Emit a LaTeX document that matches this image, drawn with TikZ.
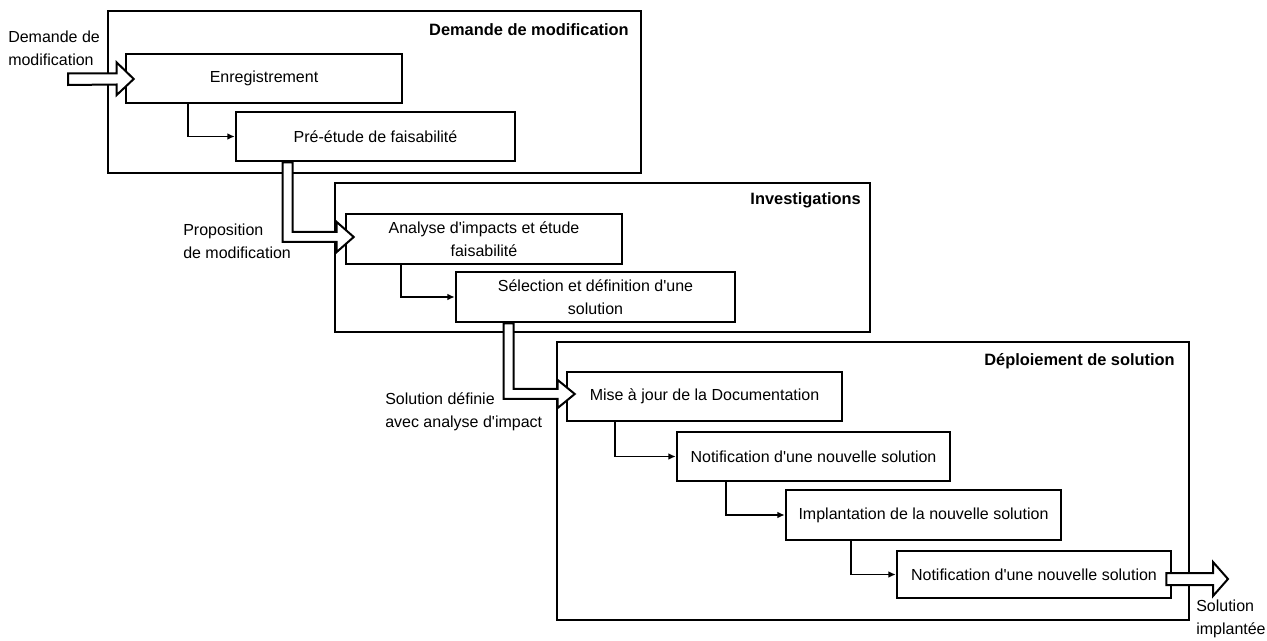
\documentclass[tikz,border=0pt]{standalone}
\usepackage{fontspec}
\setmainfont{Liberation Sans}
\usetikzlibrary{arrows.meta,calc}
\newcommand{\apo}{\textquotesingle}
\begin{document}
\begin{tikzpicture}[x=0.75pt,y=-0.75pt,
  txt/.style={font=\fontsize{12}{17.5}\selectfont},
  group/.style={draw,line width=1.9pt,fill=white},
  grouptitle/.style={txt,font=\fontsize{12.3}{17}\selectfont\bfseries,anchor=east,inner sep=0pt},
  box/.style={draw,line width=1.9pt,fill=white,inner sep=0pt,align=center,txt},
  conn/.style={line width=1.4pt,-{Latex[length=5.5pt,width=5pt]}},
  hollow/.style={draw,line width=1.5pt,fill=white,line join=miter},
  label/.style={txt,align=left,anchor=west,inner sep=0pt}]
\useasboundingbox (0,0) rectangle (1267,641);

% stage frames
\draw[group] (108,11) rectangle (641,173);
\node[grouptitle] (t1) at (629,30) {Demande de modification};
\draw[group] (335,183) rectangle (870,332);
\node[grouptitle] (t2) at (861,200) {Investigations};
\draw[group] (557,342) rectangle (1189,620);
\node[grouptitle] (t3) at (1175,361) {Déploiement de solution};

% activity boxes
\node[box,minimum width=207pt,minimum height=36.75pt] (enr) at (264,78.5) {Enregistrement};
\node[box,minimum width=209.25pt,minimum height=36.75pt] (pre) at (375.5,136.5) {Pré-étude de faisabilité};
\node[box,minimum width=207pt,minimum height=37.5pt] (ana) at (484,239) {Analyse d\apo impacts et étude\\faisabilité};
\node[box,minimum width=209.25pt,minimum height=37.5pt] (sel) at (595.5,297) {Sélection et définition d\apo une\\solution};
\node[box,minimum width=206.25pt,minimum height=36.75pt] (maj) at (704.5,396.5) {Mise à jour de la Documentation};
\node[box,minimum width=204.75pt,minimum height=36.75pt] (no1) at (813.5,456.5) {Notification d\apo une nouvelle solution};
\node[box,minimum width=206.25pt,minimum height=37.5pt] (imp) at (923.5,515) {Implantation de la nouvelle solution};
\node[box,minimum width=205.5pt,minimum height=35.25pt] (no2) at (1034,574.5) {Notification d\apo une nouvelle solution};

% sequence connectors
\draw[conn] ($(enr.south west)+(63,0)$) |- (pre.west);
\draw[conn] ($(ana.south west)+(56,0)$) |- (sel.west);
\draw[conn] ($(maj.south west)+(49,0)$) |- (no1.west);
\draw[conn] ($(no1.south west)+(50,0)$) |- (imp.west);
\draw[conn] ($(imp.south west)+(66,0)$) |- (no2.west);

% hand-over arrows between stages
\coordinate (in0) at (68,79);
\draw[hollow] ($(in0)+(0,-5.5)$) -- ($(enr.west)+(-8,-5)$) -- ($(enr.west)+(-8,-16)$)
  -- ($(enr.west)+(9,0.5)$) -- ($(enr.west)+(-8,16.5)$) -- ($(enr.west)+(-8,6)$)
  -- ($(in0)+(0,6)$) -- cycle;

\coordinate (p1) at ($(pre.south west)+(48,0)$);
\draw[hollow] (p1) -- (p1 |- 0,242) -- ($(ana.west)+(-8,3)$) -- ($(ana.west)+(-8,13)$)
  -- ($(ana.west)+(9,-2)$) -- ($(ana.west)+(-8,-17)$) -- ($(ana.west)+(-8,-7)$)
  -- ($(p1|-0,232)+(10,0)$) -- ($(p1)+(10,0)$) -- cycle;

\coordinate (p2) at ($(sel.south west)+(49,0)$);
\draw[hollow] (p2) -- (p2 |- 0,399) -- ($(maj.west)+(-8,2.5)$) -- ($(maj.west)+(-8,11.5)$)
  -- ($(maj.west)+(9,-2.5)$) -- ($(maj.west)+(-8,-16.5)$) -- ($(maj.west)+(-8,-7.5)$)
  -- ($(p2|-0,389)+(10,0)$) -- ($(p2)+(10,0)$) -- cycle;

\coordinate (p3) at ($(no2.east)+(-6,4.5)$);
\coordinate (out0) at (1228,579);
\draw[hollow] ($(p3)+(0,-6)$) -- ($(out0)+(-15,-6)$) -- ($(out0)+(-15,-17)$)
  -- (out0) -- ($(out0)+(-15,17)$) -- ($(out0)+(-15,6)$) -- ($(p3)+(0,6)$) -- cycle;

% flow labels
\node[label] (l0) at (8,48) {Demande de\\modification};
\node[label] (l1) at (183,241) {Proposition\\de modification};
\node[label] (l2) at (385,412) {Solution définie\\avec analyse d\apo impact};
\node[label] (l3) at (1196,619) {Solution\\implantée};
\end{tikzpicture}
\end{document}
